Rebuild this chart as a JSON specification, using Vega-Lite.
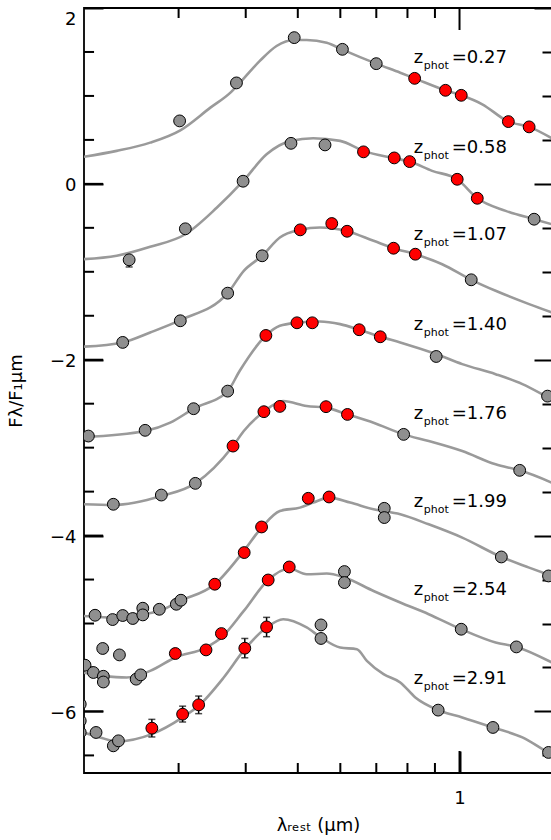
{
 "$schema": "https://vega.github.io/schema/vega-lite/v6.json",
 "width": 468, "height": 765,
 "autosize": {"type": "none"},
 "padding": {"left": 84, "top": 8, "right": 0, "bottom": 67},
 "config": {"view": {"stroke": "black", "strokeWidth": 1.8}, "font": "DejaVu Sans",
  "axis": {"grid": false, "domain": false, "ticks": true, "tickColor": "black", "tickOpacity": 1, "labelColor": "black", "titleColor": "black", "tickWidth": 2, "labelFont": "DejaVu Sans", "titleFont": "DejaVu Sans", "labelFontSize": 18, "titleFontSize": 18, "titleFontWeight": "normal", "labelOverlap": false, "labelFlush": false}},
 "datasets": {
  "curves": [
   {"z":"0.27","x":0.1994,"y":0.307},{"z":"0.27","x":0.2301,"y":0.375},{"z":"0.27","x":0.2656,"y":0.469},{"z":"0.27","x":0.3022,"y":0.609},{"z":"0.27","x":0.3438,"y":0.867},{"z":"0.27","x":0.3746,"y":1.038},{"z":"0.27","x":0.3899,"y":1.148},{"z":"0.27","x":0.4249,"y":1.398},{"z":"0.27","x":0.4565,"y":1.568},{"z":"0.27","x":0.4924,"y":1.636},{"z":"0.27","x":0.5194,"y":1.636},{"z":"0.27","x":0.566,"y":1.606},{"z":"0.27","x":0.6054,"y":1.526},{"z":"0.27","x":0.6998,"y":1.367},{"z":"0.27","x":0.7757,"y":1.264},{"z":"0.27","x":0.825,"y":1.2},{"z":"0.27","x":0.9416,"y":1.064},{"z":"0.27","x":1.0074,"y":1.007},{"z":"0.27","x":1.1025,"y":0.905},{"z":"0.27","x":1.2328,"y":0.708},{"z":"0.27","x":1.3476,"y":0.648},{"z":"0.27","x":1.4854,"y":0.518},
   {"z":"0.58","x":0.1994,"y":-0.857},{"z":"0.58","x":0.2301,"y":-0.818},{"z":"0.58","x":0.2656,"y":-0.716},{"z":"0.58","x":0.3088,"y":-0.573},{"z":"0.58","x":0.3536,"y":-0.269},{"z":"0.58","x":0.3955,"y":0.03},{"z":"0.58","x":0.4374,"y":0.336},{"z":"0.58","x":0.4856,"y":0.489},{"z":"0.58","x":0.5343,"y":0.518},{"z":"0.58","x":0.5995,"y":0.489},{"z":"0.58","x":0.6626,"y":0.375},{"z":"0.58","x":0.756,"y":0.291},{"z":"0.58","x":0.8075,"y":0.253},{"z":"0.58","x":0.8891,"y":0.148},{"z":"0.58","x":0.9901,"y":0.052},{"z":"0.58","x":1.0791,"y":-0.164},{"z":"0.58","x":1.2186,"y":-0.307},{"z":"0.58","x":1.3768,"y":-0.402},{"z":"0.58","x":1.4854,"y":-0.459},
   {"z":"1.07","x":0.1994,"y":-1.852},{"z":"1.07","x":0.2361,"y":-1.803},{"z":"1.07","x":0.2656,"y":-1.69},{"z":"1.07","x":0.3022,"y":-1.55},{"z":"1.07","x":0.3702,"y":-1.243},{"z":"1.07","x":0.3967,"y":-0.989},{"z":"1.07","x":0.4292,"y":-0.818},{"z":"1.07","x":0.463,"y":-0.61},{"z":"1.07","x":0.5053,"y":-0.523},{"z":"1.07","x":0.5499,"y":-0.497},{"z":"1.07","x":0.6177,"y":-0.539},{"z":"1.07","x":0.6918,"y":-0.648},{"z":"1.07","x":0.7537,"y":-0.732},{"z":"1.07","x":0.8275,"y":-0.8},{"z":"1.07","x":0.9283,"y":-0.914},{"z":"1.07","x":1.0515,"y":-1.091},{"z":"1.07","x":1.1673,"y":-1.216},{"z":"1.07","x":1.3476,"y":-1.368},{"z":"1.07","x":1.4854,"y":-1.463},
   {"z":"1.40","x":0.1994,"y":-2.88},{"z":"1.40","x":0.2599,"y":-2.811},{"z":"1.40","x":0.2894,"y":-2.716},{"z":"1.40","x":0.3199,"y":-2.557},{"z":"1.40","x":0.3702,"y":-2.357},{"z":"1.40","x":0.3899,"y":-2.125},{"z":"1.40","x":0.4361,"y":-1.724},{"z":"1.40","x":0.463,"y":-1.614},{"z":"1.40","x":0.4982,"y":-1.58},{"z":"1.40","x":0.5499,"y":-1.565},{"z":"1.40","x":0.5995,"y":-1.595},{"z":"1.40","x":0.6505,"y":-1.659},{"z":"1.40","x":0.712,"y":-1.739},{"z":"1.40","x":0.7757,"y":-1.803},{"z":"1.40","x":0.9048,"y":-1.936},{"z":"1.40","x":1.0117,"y":-2.05},{"z":"1.40","x":1.1673,"y":-2.164},{"z":"1.40","x":1.3094,"y":-2.277},{"z":"1.40","x":1.4582,"y":-2.425},{"z":"1.40","x":1.4854,"y":-2.451},
   {"z":"1.76","x":0.1994,"y":-3.644},{"z":"1.76","x":0.2268,"y":-3.652},{"z":"1.76","x":0.2786,"y":-3.55},{"z":"1.76","x":0.3223,"y":-3.406},{"z":"1.76","x":0.3788,"y":-2.982},{"z":"1.76","x":0.3967,"y":-2.811},{"z":"1.76","x":0.4324,"y":-2.591},{"z":"1.76","x":0.4697,"y":-2.47},{"z":"1.76","x":0.5194,"y":-2.527},{"z":"1.76","x":0.5643,"y":-2.545},{"z":"1.76","x":0.6186,"y":-2.622},{"z":"1.76","x":0.6918,"y":-2.716},{"z":"1.76","x":0.787,"y":-2.849},{"z":"1.76","x":0.8763,"y":-2.925},{"z":"1.76","x":1.0117,"y":-3.039},{"z":"1.76","x":1.1673,"y":-3.19},{"z":"1.76","x":1.2942,"y":-3.258},{"z":"1.76","x":1.4854,"y":-3.398},
   {"z":"1.99","x":0.1994,"y":-4.914},{"z":"1.99","x":0.2301,"y":-4.932},{"z":"1.99","x":0.2573,"y":-4.894},{"z":"1.99","x":0.2762,"y":-4.857},{"z":"1.99","x":0.3022,"y":-4.743},{"z":"1.99","x":0.3503,"y":-4.553},{"z":"1.99","x":0.3967,"y":-4.175},{"z":"1.99","x":0.4281,"y":-3.909},{"z":"1.99","x":0.463,"y":-3.72},{"z":"1.99","x":0.5047,"y":-3.682},{"z":"1.99","x":0.5343,"y":-3.625},{"z":"1.99","x":0.5717,"y":-3.568},{"z":"1.99","x":0.6259,"y":-3.625},{"z":"1.99","x":0.6918,"y":-3.701},{"z":"1.99","x":0.7757,"y":-3.758},{"z":"1.99","x":0.8763,"y":-3.872},{"z":"1.99","x":1.0117,"y":-4.023},{"z":"1.99","x":1.1963,"y":-4.243},{"z":"1.99","x":1.3476,"y":-4.364},{"z":"1.99","x":1.4854,"y":-4.459},
   {"z":"2.54","x":0.1994,"y":-5.557},{"z":"2.54","x":0.2173,"y":-5.595},{"z":"2.54","x":0.2402,"y":-5.614},{"z":"2.54","x":0.2656,"y":-5.539},{"z":"2.54","x":0.2958,"y":-5.386},{"z":"2.54","x":0.3374,"y":-5.273},{"z":"2.54","x":0.3604,"y":-5.159},{"z":"2.54","x":0.3967,"y":-4.857},{"z":"2.54","x":0.4404,"y":-4.505},{"z":"2.54","x":0.482,"y":-4.375},{"z":"2.54","x":0.5194,"y":-4.44},{"z":"2.54","x":0.566,"y":-4.432},{"z":"2.54","x":0.6106,"y":-4.477},{"z":"2.54","x":0.6918,"y":-4.63},{"z":"2.54","x":0.7757,"y":-4.761},{"z":"2.54","x":0.8763,"y":-4.894},{"z":"2.54","x":1.0074,"y":-5.065},{"z":"2.54","x":1.1673,"y":-5.216},{"z":"2.54","x":1.2761,"y":-5.266},{"z":"2.54","x":1.4854,"y":-5.443},
   {"z":"2.91","x":0.1994,"y":-6.239},{"z":"2.91","x":0.2142,"y":-6.295},{"z":"2.91","x":0.2301,"y":-6.341},{"z":"2.91","x":0.2675,"y":-6.258},{"z":"2.91","x":0.3052,"y":-6.068},{"z":"2.91","x":0.3269,"y":-5.936},{"z":"2.91","x":0.364,"y":-5.614},{"z":"2.91","x":0.3984,"y":-5.292},{"z":"2.91","x":0.4374,"y":-5.045},{"z":"2.91","x":0.4697,"y":-4.951},{"z":"2.91","x":0.5194,"y":-5.045},{"z":"2.91","x":0.5523,"y":-5.159},{"z":"2.91","x":0.5995,"y":-5.273},{"z":"2.91","x":0.6441,"y":-5.292},{"z":"2.91","x":0.6723,"y":-5.425},{"z":"2.91","x":0.7221,"y":-5.576},{"z":"2.91","x":0.7757,"y":-5.67},{"z":"2.91","x":0.8275,"y":-5.841},{"z":"2.91","x":0.9125,"y":-5.985},{"z":"2.91","x":1.0117,"y":-6.068},{"z":"2.91","x":1.154,"y":-6.182},{"z":"2.91","x":1.3094,"y":-6.295},{"z":"2.91","x":1.4643,"y":-6.466},{"z":"2.91","x":1.4864,"y":-6.485}
  ],
  "points": [
   {"z":"0.27","x":0.3013,"y":0.716,"c":"g"},{"z":"0.27","x":0.3844,"y":1.148,"c":"g"},{"z":"0.27","x":0.4924,"y":1.663,"c":"g"},{"z":"0.27","x":0.6054,"y":1.53,"c":"g"},{"z":"0.27","x":0.6998,"y":1.367,"c":"g"},{"z":"0.27","x":0.825,"y":1.2,"c":"r"},{"z":"0.27","x":0.9416,"y":1.064,"c":"r"},{"z":"0.27","x":1.0074,"y":1.007,"c":"r"},{"z":"0.27","x":1.2328,"y":0.708,"c":"r"},{"z":"0.27","x":1.3476,"y":0.648,"c":"r"},
   {"z":"0.58","x":0.2427,"y":-0.864,"c":"g","lo":-0.945,"hi":-0.864},{"z":"0.58","x":0.3088,"y":-0.511,"c":"g"},{"z":"0.58","x":0.3955,"y":0.03,"c":"g"},{"z":"0.58","x":0.4856,"y":0.461,"c":"g"},{"z":"0.58","x":0.5619,"y":0.443,"c":"g"},{"z":"0.58","x":0.6626,"y":0.364,"c":"r"},{"z":"0.58","x":0.756,"y":0.295,"c":"r"},{"z":"0.58","x":0.8075,"y":0.253,"c":"r"},{"z":"0.58","x":0.9901,"y":0.052,"c":"r"},{"z":"0.58","x":1.0791,"y":-0.164,"c":"r"},{"z":"0.58","x":1.3768,"y":-0.402,"c":"g"},
   {"z":"1.07","x":0.2361,"y":-1.803,"c":"g"},{"z":"1.07","x":0.3022,"y":-1.557,"c":"g"},{"z":"1.07","x":0.3702,"y":-1.243,"c":"g"},{"z":"1.07","x":0.4292,"y":-0.818,"c":"g"},{"z":"1.07","x":0.5053,"y":-0.523,"c":"r"},{"z":"1.07","x":0.5784,"y":-0.451,"c":"r"},{"z":"1.07","x":0.6177,"y":-0.539,"c":"r"},{"z":"1.07","x":0.7537,"y":-0.732,"c":"r"},{"z":"1.07","x":0.8275,"y":-0.8,"c":"r"},{"z":"1.07","x":1.0515,"y":-1.091,"c":"g"},
   {"z":"1.40","x":0.2038,"y":-2.868,"c":"g"},{"z":"1.40","x":0.2599,"y":-2.803,"c":"g"},{"z":"1.40","x":0.3199,"y":-2.557,"c":"g"},{"z":"1.40","x":0.3702,"y":-2.357,"c":"g"},{"z":"1.40","x":0.4361,"y":-1.724,"c":"r"},{"z":"1.40","x":0.4982,"y":-1.58,"c":"r"},{"z":"1.40","x":0.5321,"y":-1.58,"c":"r"},{"z":"1.40","x":0.6505,"y":-1.659,"c":"r"},{"z":"1.40","x":0.712,"y":-1.739,"c":"r"},{"z":"1.40","x":0.9048,"y":-1.963,"c":"g"},{"z":"1.40","x":1.4582,"y":-2.414,"c":"g"},
   {"z":"1.76","x":0.2268,"y":-3.644,"c":"g"},{"z":"1.76","x":0.2786,"y":-3.539,"c":"g"},{"z":"1.76","x":0.3223,"y":-3.406,"c":"g"},{"z":"1.76","x":0.3788,"y":-2.982,"c":"r"},{"z":"1.76","x":0.4324,"y":-2.591,"c":"r"},{"z":"1.76","x":0.463,"y":-2.531,"c":"r"},{"z":"1.76","x":0.5643,"y":-2.534,"c":"r"},{"z":"1.76","x":0.6186,"y":-2.622,"c":"r"},{"z":"1.76","x":0.787,"y":-2.849,"c":"g"},{"z":"1.76","x":1.2942,"y":-3.258,"c":"g"},
   {"z":"1.99","x":0.2097,"y":-4.906,"c":"g"},{"z":"1.99","x":0.2261,"y":-4.955,"c":"g"},{"z":"1.99","x":0.2361,"y":-4.909,"c":"g"},{"z":"1.99","x":0.2465,"y":-4.943,"c":"g"},{"z":"1.99","x":0.2573,"y":-4.826,"c":"g"},{"z":"1.99","x":0.2573,"y":-4.902,"c":"g"},{"z":"1.99","x":0.2762,"y":-4.838,"c":"g"},{"z":"1.99","x":0.2971,"y":-4.781,"c":"g"},{"z":"1.99","x":0.303,"y":-4.735,"c":"g"},{"z":"1.99","x":0.3503,"y":-4.553,"c":"r"},{"z":"1.99","x":0.3974,"y":-4.193,"c":"r"},{"z":"1.99","x":0.4281,"y":-3.902,"c":"r"},{"z":"1.99","x":0.523,"y":-3.576,"c":"r"},{"z":"1.99","x":0.5717,"y":-3.561,"c":"r"},{"z":"1.99","x":0.7243,"y":-3.69,"c":"g"},{"z":"1.99","x":0.7243,"y":-3.795,"c":"g"},{"z":"1.99","x":1.1963,"y":-4.243,"c":"g"},{"z":"1.99","x":1.4643,"y":-4.459,"c":"g"},
   {"z":"2.54","x":0.2009,"y":-5.474,"c":"g"},{"z":"2.54","x":0.2082,"y":-5.557,"c":"g"},{"z":"2.54","x":0.2167,"y":-5.284,"c":"g"},{"z":"2.54","x":0.2173,"y":-5.6,"c":"g"},{"z":"2.54","x":0.2173,"y":-5.665,"c":"g"},{"z":"2.54","x":0.2328,"y":-5.357,"c":"g"},{"z":"2.54","x":0.2501,"y":-5.633,"c":"g"},{"z":"2.54","x":0.255,"y":-5.584,"c":"g"},{"z":"2.54","x":0.2958,"y":-5.341,"c":"r"},{"z":"2.54","x":0.3374,"y":-5.3,"c":"r"},{"z":"2.54","x":0.3604,"y":-5.114,"c":"r"},{"z":"2.54","x":0.4404,"y":-4.505,"c":"r","lo":-4.55,"hi":-4.46},{"z":"2.54","x":0.482,"y":-4.357,"c":"r"},{"z":"2.54","x":0.6106,"y":-4.409,"c":"g"},{"z":"2.54","x":0.6106,"y":-4.534,"c":"g"},{"z":"2.54","x":1.0074,"y":-5.065,"c":"g"},{"z":"2.54","x":1.2761,"y":-5.266,"c":"g"},
   {"z":"2.91","x":0.1968,"y":-5.917,"c":"g"},{"z":"2.91","x":0.1968,"y":-6.107,"c":"g"},{"z":"2.91","x":0.1968,"y":-6.239,"c":"g"},{"z":"2.91","x":0.2106,"y":-6.239,"c":"g"},{"z":"2.91","x":0.2268,"y":-6.391,"c":"g"},{"z":"2.91","x":0.2318,"y":-6.334,"c":"g"},{"z":"2.91","x":0.2675,"y":-6.19,"c":"r","lo":-6.29,"hi":-6.09},{"z":"2.91","x":0.3052,"y":-6.031,"c":"r","lo":-6.12,"hi":-5.94},{"z":"2.91","x":0.3269,"y":-5.925,"c":"r","lo":-6.025,"hi":-5.825},{"z":"2.91","x":0.3984,"y":-5.281,"c":"r","lo":-5.39,"hi":-5.17},{"z":"2.91","x":0.4374,"y":-5.039,"c":"r","lo":-5.15,"hi":-4.93},{"z":"2.91","x":0.5523,"y":-5.016,"c":"g"},{"z":"2.91","x":0.5523,"y":-5.17,"c":"g"},{"z":"2.91","x":0.9125,"y":-5.985,"c":"g"},{"z":"2.91","x":1.154,"y":-6.182,"c":"g"},{"z":"2.91","x":1.4643,"y":-6.466,"c":"g"}
  ],
  "labels": [
   {"z":"0.27","x":0.822,"y":1.378,"t":"=0.27"},{"z":"0.58","x":0.822,"y":0.356,"t":"=0.58"},{"z":"1.07","x":0.822,"y":-0.641,"t":"=1.07"},{"z":"1.40","x":0.822,"y":-1.664,"t":"=1.40"},{"z":"1.76","x":0.822,"y":-2.67,"t":"=1.76"},{"z":"1.99","x":0.822,"y":-3.675,"t":"=1.99"},{"z":"2.54","x":0.822,"y":-4.678,"t":"=2.54"},{"z":"2.91","x":0.822,"y":-5.69,"t":"=2.91"}
  ],
  "xminor": [{"v":0.3},{"v":0.4},{"v":0.5},{"v":0.6},{"v":0.7},{"v":0.8},{"v":0.9}],
  "xmajor": [{"v":1}],
  "yminor": [{"v":-6.5},{"v":-5.5},{"v":-5},{"v":-4.5},{"v":-3.5},{"v":-3},{"v":-2.5},{"v":-1.5},{"v":-1},{"v":-0.5},{"v":0.5},{"v":1},{"v":1.5}],
  "ymajor": [{"v":-6},{"v":-4},{"v":-2},{"v":0}]
 },
 "resolve": {"axis": {"x": "independent", "y": "independent"}},
 "layer": [
  {
   "data": {"name": "xminor"},
   "mark": {"type": "rule", "color": "black", "strokeWidth": 2},
   "encoding": {
    "x": {"field": "v", "type": "quantitative", "scale": {"type": "log", "domain": [0.2, 1.4864], "nice": false, "zero": false}, "axis": null},
    "y": {"datum": -6.7, "type": "quantitative", "scale": {"domain": [-6.7, 2], "nice": false, "zero": false}, "axis": null},
    "y2": {"datum": -6.586}
   }
  },
  {
   "data": {"name": "xmajor"},
   "mark": {"type": "rule", "color": "black", "strokeWidth": 2},
   "encoding": {
    "x": {"field": "v", "type": "quantitative", "scale": {"type": "log", "domain": [0.2, 1.4864], "nice": false, "zero": false}, "axis": null},
    "y": {"datum": -6.7, "type": "quantitative", "scale": {"domain": [-6.7, 2], "nice": false, "zero": false}, "axis": null},
    "y2": {"datum": -6.45}
   }
  },
  {
   "data": {"name": "xminor"},
   "mark": {"type": "rule", "color": "black", "strokeWidth": 2},
   "encoding": {
    "x": {"field": "v", "type": "quantitative", "scale": {"type": "log", "domain": [0.2, 1.4864], "nice": false, "zero": false}, "axis": null},
    "y": {"datum": 2, "type": "quantitative", "scale": {"domain": [-6.7, 2], "nice": false, "zero": false}, "axis": null},
    "y2": {"datum": 1.886}
   }
  },
  {
   "data": {"name": "xmajor"},
   "mark": {"type": "rule", "color": "black", "strokeWidth": 2},
   "encoding": {
    "x": {"field": "v", "type": "quantitative", "scale": {"type": "log", "domain": [0.2, 1.4864], "nice": false, "zero": false}, "axis": null},
    "y": {"datum": 2, "type": "quantitative", "scale": {"domain": [-6.7, 2], "nice": false, "zero": false}, "axis": null},
    "y2": {"datum": 1.75}
   }
  },
  {
   "data": {"name": "yminor"},
   "mark": {"type": "rule", "color": "black", "strokeWidth": 2},
   "encoding": {
    "y": {"field": "v", "type": "quantitative", "scale": {"domain": [-6.7, 2], "nice": false, "zero": false}, "axis": null},
    "x": {"datum": 0.2, "type": "quantitative", "scale": {"type": "log", "domain": [0.2, 1.4864], "nice": false, "zero": false}, "axis": null},
    "x2": {"datum": 0.2088}
   }
  },
  {
   "data": {"name": "ymajor"},
   "mark": {"type": "rule", "color": "black", "strokeWidth": 2},
   "encoding": {
    "y": {"field": "v", "type": "quantitative", "scale": {"domain": [-6.7, 2], "nice": false, "zero": false}, "axis": null},
    "x": {"datum": 0.2, "type": "quantitative", "scale": {"type": "log", "domain": [0.2, 1.4864], "nice": false, "zero": false}, "axis": null},
    "x2": {"datum": 0.2171}
   }
  },
  {
   "data": {"name": "curves"},
   "mark": {"type": "line", "color": "#9a9a9a", "strokeWidth": 2.6, "clip": true, "interpolate": "monotone"},
   "encoding": {
    "x": {"field": "x", "type": "quantitative", "scale": {"type": "log", "domain": [0.2, 1.4864], "nice": false, "zero": false},
     "axis": {"orient": "bottom", "values": [1], "offset": -22, "tickSize": 22, "labelExpr": "'1'", "labelPadding": 16, "labelBaseline": "top", "labelAlign": "center", "title": "λᵣₑₛₜ (μm)", "titlePadding": 9}},
    "y": {"field": "y", "type": "quantitative", "scale": {"domain": [-6.7, 2], "nice": false, "zero": false},
     "axis": {"orient": "left", "values": [-6,-4,-2,0,2], "offset": -19, "tickSize": 19, "labelExpr": "datum.value < 0 ? '−' + abs(datum.value) : '' + datum.value", "labelPadding": 8, "labelBaseline": {"condition": {"test": "datum.value == 2", "value": "top"}, "value": "middle"}, "labelOffset": 2, "title": "Fλ/F₁μm", "titlePadding": 24}},
    "detail": {"field": "z"}
   }
  },
  {
   "data": {"name": "points"},
   "transform": [{"filter": "isValid(datum.lo)"}],
   "mark": {"type": "rule", "color": "black", "strokeWidth": 1.5},
   "encoding": {
    "x": {"field": "x", "type": "quantitative", "scale": {"type": "log", "domain": [0.2, 1.4864], "nice": false, "zero": false}, "axis": null},
    "y": {"field": "lo", "type": "quantitative", "scale": {"domain": [-6.7, 2], "nice": false, "zero": false},
     "axis": {"orient": "right", "values": [-6,-4,-2,0,2], "offset": -18, "tickSize": 18, "labels": false, "title": null}},
    "y2": {"field": "hi"}
   }
  },
  {
   "data": {"name": "points"},
   "transform": [{"filter": "isValid(datum.lo)"}],
   "mark": {"type": "tick", "orient": "horizontal", "color": "black", "size": 7, "thickness": 1.5},
   "encoding": {
    "x": {"field": "x", "type": "quantitative", "scale": {"type": "log", "domain": [0.2, 1.4864], "nice": false, "zero": false}, "axis": null},
    "y": {"field": "lo", "type": "quantitative", "scale": {"domain": [-6.7, 2], "nice": false, "zero": false}, "axis": null}
   }
  },
  {
   "data": {"name": "points"},
   "transform": [{"filter": "isValid(datum.lo)"}],
   "mark": {"type": "tick", "orient": "horizontal", "color": "black", "size": 7, "thickness": 1.5},
   "encoding": {
    "x": {"field": "x", "type": "quantitative", "scale": {"type": "log", "domain": [0.2, 1.4864], "nice": false, "zero": false}, "axis": null},
    "y": {"field": "hi", "type": "quantitative", "scale": {"domain": [-6.7, 2], "nice": false, "zero": false},
     "axis": {"orient": "right", "values": [-6.5,-5.5,-5,-4.5,-3.5,-3,-2.5,-1.5,-1,-0.5,0.5,1,1.5], "offset": -10, "tickSize": 10, "labels": false, "title": null}}
   }
  },
  {
   "data": {"name": "points"},
   "mark": {"type": "circle", "size": 140, "stroke": "black", "strokeWidth": 1, "opacity": 1, "clip": true},
   "encoding": {
    "x": {"field": "x", "type": "quantitative", "scale": {"type": "log", "domain": [0.2, 1.4864], "nice": false, "zero": false}, "axis": null},
    "y": {"field": "y", "type": "quantitative", "scale": {"domain": [-6.7, 2], "nice": false, "zero": false}, "axis": null},
    "color": {"field": "c", "type": "nominal", "scale": {"domain": ["g", "r"], "range": ["#8f8f8f", "#ff0000"]}, "legend": null}
   }
  },
  {
   "data": {"name": "labels"},
   "mark": {"type": "text", "align": "left", "baseline": "alphabetic", "font": "DejaVu Sans", "fontSize": 18, "color": "black"},
   "encoding": {
    "x": {"field": "x", "type": "quantitative", "scale": {"type": "log", "domain": [0.2, 1.4864], "nice": false, "zero": false}, "axis": null},
    "y": {"field": "y", "type": "quantitative", "scale": {"domain": [-6.7, 2], "nice": false, "zero": false}, "axis": null},
    "text": {"value": "z"}
   }
  },
  {
   "data": {"name": "labels"},
   "mark": {"type": "text", "align": "left", "baseline": "alphabetic", "font": "DejaVu Sans", "fontSize": 11, "color": "black", "dx": 10, "dy": 6},
   "encoding": {
    "x": {"field": "x", "type": "quantitative", "scale": {"type": "log", "domain": [0.2, 1.4864], "nice": false, "zero": false}, "axis": null},
    "y": {"field": "y", "type": "quantitative", "scale": {"domain": [-6.7, 2], "nice": false, "zero": false}, "axis": null},
    "text": {"value": "phot"}
   }
  },
  {
   "data": {"name": "labels"},
   "mark": {"type": "text", "align": "left", "baseline": "alphabetic", "font": "DejaVu Sans", "fontSize": 18, "color": "black", "dx": 38},
   "encoding": {
    "x": {"field": "x", "type": "quantitative", "scale": {"type": "log", "domain": [0.2, 1.4864], "nice": false, "zero": false}, "axis": null},
    "y": {"field": "y", "type": "quantitative", "scale": {"domain": [-6.7, 2], "nice": false, "zero": false}, "axis": null},
    "text": {"field": "t"}
   }
  }
 ]
}
